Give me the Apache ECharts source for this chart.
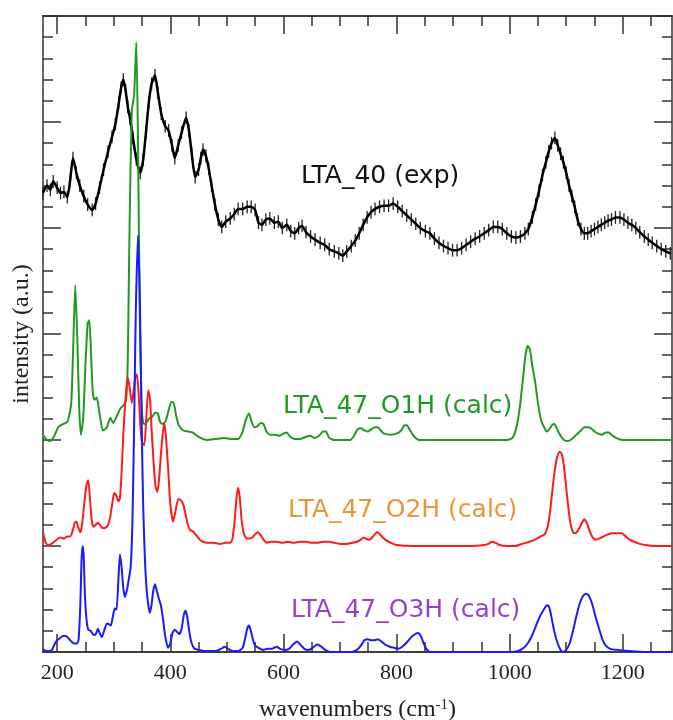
<!DOCTYPE html>
<html>
<head>
<meta charset="utf-8">
<script src="https://cdn.jsdelivr.net/npm/echarts@6/dist/echarts.min.js"></script>
<style>
  html, body { margin: 0; padding: 0; background: #fff; }
  #chart { width: 673px; height: 720px; }
</style>
</head>
<body>
<div id="chart"></div>
<script>
  // x axis ticks (wavenumbers)
  const majorTicks = [200, 400, 600, 800, 1000, 1200]
  const minorTicks = [200, 250, 300, 350, 400, 450, 500, 550, 600, 650, 700, 750, 800, 850, 900, 950, 1000, 1050, 1100, 1150, 1200, 1250]

  // LTA_40 (exp), [wavenumber, intensity]
  const expPts = [
    [175, 4.33], [182, 4.40], [188, 4.36], [193, 4.44], [200, 4.38], [206, 4.33], [212, 4.34], [218, 4.29],
    [223, 4.45], [228, 4.66], [234, 4.52], [240, 4.40], [247, 4.30], [254, 4.22], [262, 4.17], [268, 4.23],
    [275, 4.38], [282, 4.55], [290, 4.72], [297, 4.86], [303, 4.98], [309, 5.18], [313, 5.32], [317, 5.40],
    [321, 5.30], [325, 5.14], [329, 5.03], [334, 4.85], [340, 4.65], [347, 4.52], [352, 4.64], [357, 4.90],
    [362, 5.18], [367, 5.36], [373, 5.44], [378, 5.28], [384, 5.08], [391, 4.96], [397, 4.92], [403, 4.78],
    [408, 4.66], [414, 4.78], [420, 4.90], [428, 5.04], [433, 4.92], [438, 4.70], [444, 4.48], [450, 4.55],
    [454, 4.66], [458, 4.74], [463, 4.68], [468, 4.56], [473, 4.40], [479, 4.22], [485, 4.08], [491, 4.01],
    [498, 4.06], [506, 4.09], [513, 4.13], [520, 4.18], [528, 4.18], [536, 4.20], [543, 4.20], [550, 4.17],
    [556, 4.05], [562, 4.03], [569, 4.08], [576, 4.09], [584, 4.05], [591, 4.06], [598, 4.00], [606, 4.03],
    [613, 3.97], [620, 3.95], [627, 4.00], [633, 4.02], [640, 3.96], [648, 3.92], [656, 3.89], [665, 3.86],
    [673, 3.84], [681, 3.80], [690, 3.78], [698, 3.76], [705, 3.74], [712, 3.78], [720, 3.83], [727, 3.88],
    [734, 3.95], [741, 4.03], [748, 4.10], [755, 4.15], [762, 4.18], [770, 4.20], [778, 4.21], [786, 4.21],
    [794, 4.23], [802, 4.20], [810, 4.16], [818, 4.12], [826, 4.08], [834, 4.04], [842, 4.00], [851, 3.97],
    [859, 3.95], [867, 3.90], [875, 3.86], [883, 3.83], [891, 3.81], [899, 3.79], [907, 3.79], [915, 3.81],
    [923, 3.84], [931, 3.87], [939, 3.90], [947, 3.92], [955, 3.95], [963, 3.98], [971, 4.01], [979, 4.01],
    [987, 3.99], [995, 3.95], [1003, 3.92], [1011, 3.91], [1019, 3.92], [1027, 3.95], [1033, 3.99], [1040, 4.10],
    [1046, 4.22], [1052, 4.35], [1058, 4.50], [1064, 4.62], [1069, 4.72], [1074, 4.80], [1080, 4.85], [1085, 4.78],
    [1090, 4.70], [1095, 4.62], [1100, 4.52], [1105, 4.40], [1110, 4.30], [1115, 4.20], [1120, 4.08], [1126, 3.99],
    [1132, 3.95], [1138, 3.95], [1144, 3.97], [1150, 3.99], [1156, 4.01], [1162, 4.03], [1168, 4.05], [1174, 4.07],
    [1180, 4.08], [1187, 4.10], [1195, 4.10], [1202, 4.08], [1209, 4.05], [1216, 4.03], [1223, 4.00], [1230, 3.96],
    [1238, 3.92], [1245, 3.89], [1252, 3.86], [1260, 3.83], [1268, 3.80], [1276, 3.78], [1284, 3.76]
  ]
  // half height of the error bars on the exp curve
  const expErr = 0.06

  // LTA_47_O1H (calc)
  const o1hPts = [
    [175, 2.05], [182, 2.00], [188, 1.99], [195, 2.04], [202, 2.12], [210, 2.15], [218, 2.17], [222, 2.25],
    [225, 2.35], [228, 2.80], [232, 3.46], [236, 2.90], [239, 2.30], [242, 2.05], [246, 2.20], [250, 2.70],
    [254, 3.10], [257, 3.13], [260, 2.80], [263, 2.45], [266, 2.38], [270, 2.40], [275, 2.25], [281, 2.09],
    [288, 2.12], [294, 2.21], [299, 2.16], [305, 2.22], [312, 2.30], [318, 2.33], [322, 2.38], [325, 2.80],
    [328, 4.00], [332, 5.11], [336, 5.25], [340, 5.75], [343, 4.80], [346, 3.20], [349, 2.40], [352, 2.16],
    [356, 2.15], [362, 2.20], [368, 2.22], [374, 2.26], [378, 2.25], [382, 2.17], [386, 2.15], [392, 2.18],
    [398, 2.30], [402, 2.36], [406, 2.35], [410, 2.24], [415, 2.14], [423, 2.09], [432, 2.08], [440, 2.07],
    [450, 2.03], [465, 2.00], [480, 2.01], [495, 2.02], [510, 2.01], [520, 2.01], [528, 2.08], [533, 2.18],
    [539, 2.25], [544, 2.17], [549, 2.12], [554, 2.13], [560, 2.16], [565, 2.15], [570, 2.08], [576, 2.05],
    [585, 2.05], [593, 2.04], [600, 2.06], [606, 2.07], [612, 2.03], [620, 2.01], [630, 2.01], [640, 2.03],
    [647, 2.04], [655, 2.02], [663, 2.04], [670, 2.08], [675, 2.08], [681, 2.02], [690, 2.00], [705, 2.00],
    [718, 2.00], [725, 2.04], [731, 2.10], [737, 2.11], [743, 2.09], [749, 2.08], [755, 2.10], [762, 2.12],
    [767, 2.12], [772, 2.09], [778, 2.06], [790, 2.05], [800, 2.06], [808, 2.09], [814, 2.14], [818, 2.14],
    [823, 2.10], [830, 2.04], [840, 2.00], [860, 2.00], [900, 2.00], [960, 2.00], [995, 2.00], [1005, 2.02],
    [1012, 2.12], [1018, 2.31], [1023, 2.55], [1028, 2.80], [1032, 2.89], [1036, 2.85], [1040, 2.70], [1045, 2.55],
    [1050, 2.35], [1055, 2.20], [1060, 2.13], [1066, 2.08], [1070, 2.10], [1075, 2.14], [1079, 2.15], [1084, 2.10],
    [1090, 2.04], [1096, 2.00], [1103, 1.99], [1110, 2.01], [1118, 2.05], [1126, 2.09], [1132, 2.12], [1138, 2.12],
    [1144, 2.11], [1150, 2.08], [1156, 2.06], [1163, 2.05], [1170, 2.07], [1175, 2.07], [1180, 2.05], [1188, 2.02],
    [1200, 2.00], [1230, 2.00], [1287, 2.00]
  ]

  // LTA_47_O2H (calc)
  const o2hPts = [
    [175, 1.13], [180, 1.03], [184, 1.01], [190, 1.02], [197, 1.05], [205, 1.08], [212, 1.07], [218, 1.09],
    [223, 1.09], [228, 1.15], [231, 1.22], [234, 1.23], [237, 1.18], [241, 1.13], [244, 1.20], [248, 1.40],
    [252, 1.58], [255, 1.62], [258, 1.45], [261, 1.25], [264, 1.18], [268, 1.20], [272, 1.22], [276, 1.20],
    [280, 1.17], [285, 1.17], [290, 1.20], [294, 1.28], [298, 1.42], [301, 1.50], [305, 1.47], [308, 1.42],
    [311, 1.45], [314, 1.70], [317, 2.05], [321, 2.40], [325, 2.59], [328, 2.50], [332, 2.35], [335, 2.45],
    [338, 2.58], [341, 2.62], [344, 2.45], [347, 2.15], [350, 1.98], [354, 1.95], [357, 2.15], [361, 2.47],
    [364, 2.40], [367, 2.10], [371, 1.75], [374, 1.56], [377, 1.51], [380, 1.62], [384, 1.90], [389, 2.16],
    [392, 2.05], [396, 1.75], [400, 1.40], [405, 1.23], [409, 1.32], [414, 1.44], [419, 1.43], [423, 1.39],
    [427, 1.30], [431, 1.20], [435, 1.15], [440, 1.14], [446, 1.10], [452, 1.06], [458, 1.04], [465, 1.03],
    [475, 1.03], [488, 1.02], [498, 1.03], [506, 1.03], [510, 1.07], [514, 1.25], [517, 1.45], [520, 1.55],
    [523, 1.45], [526, 1.25], [530, 1.12], [535, 1.07], [540, 1.07], [545, 1.08], [550, 1.11], [555, 1.13],
    [560, 1.10], [565, 1.06], [570, 1.03], [578, 1.04], [588, 1.04], [598, 1.03], [608, 1.04], [618, 1.03],
    [630, 1.04], [640, 1.04], [650, 1.03], [660, 1.03], [670, 1.04], [680, 1.04], [690, 1.03], [700, 1.02],
    [712, 1.02], [722, 1.03], [730, 1.04], [737, 1.06], [742, 1.08], [746, 1.07], [750, 1.06], [755, 1.07],
    [760, 1.10], [765, 1.13], [769, 1.12], [774, 1.09], [780, 1.06], [790, 1.03], [800, 1.01], [830, 1.00],
    [880, 1.00], [930, 1.00], [955, 1.01], [962, 1.02], [969, 1.04], [975, 1.03], [982, 1.01], [995, 1.00],
    [1010, 1.00], [1022, 1.02], [1035, 1.04], [1045, 1.06], [1055, 1.09], [1062, 1.11], [1068, 1.20], [1072, 1.35],
    [1076, 1.55], [1080, 1.72], [1084, 1.84], [1088, 1.89], [1092, 1.87], [1096, 1.75], [1100, 1.55], [1104, 1.35],
    [1108, 1.20], [1112, 1.13], [1116, 1.12], [1120, 1.14], [1125, 1.19], [1130, 1.24], [1133, 1.25], [1137, 1.21],
    [1142, 1.13], [1147, 1.08], [1152, 1.06], [1158, 1.07], [1166, 1.09], [1174, 1.11], [1182, 1.12], [1190, 1.12],
    [1198, 1.12], [1205, 1.09], [1212, 1.06], [1220, 1.04], [1230, 1.02], [1240, 1.01], [1255, 1.00], [1287, 1.00]
  ]

  // LTA_47_O3H (calc)
  const o3hPts = [
    [175, 0.03], [180, 0.01], [186, 0.01], [191, 0.02], [196, 0.08], [200, 0.11], [205, 0.13], [210, 0.15],
    [215, 0.15], [220, 0.13], [225, 0.10], [230, 0.08], [235, 0.08], [238, 0.12], [241, 0.45], [243, 0.85],
    [245, 1.00], [247, 0.90], [249, 0.55], [252, 0.30], [255, 0.21], [259, 0.20], [263, 0.17], [267, 0.16],
    [270, 0.19], [272, 0.22], [275, 0.18], [279, 0.14], [283, 0.20], [288, 0.27], [292, 0.26], [295, 0.25],
    [299, 0.35], [302, 0.41], [305, 0.40], [308, 0.65], [311, 0.92], [314, 0.80], [317, 0.60], [320, 0.52],
    [324, 0.60], [327, 0.70], [330, 0.80], [333, 1.20], [336, 2.10], [339, 3.20], [343, 3.93], [346, 3.40],
    [349, 2.30], [352, 1.40], [355, 0.90], [358, 0.60], [361, 0.45], [364, 0.37], [367, 0.45], [370, 0.58],
    [373, 0.64], [376, 0.58], [380, 0.50], [383, 0.45], [387, 0.32], [391, 0.15], [396, 0.04], [400, 0.08],
    [404, 0.18], [408, 0.21], [412, 0.19], [416, 0.17], [420, 0.22], [424, 0.35], [427, 0.39], [430, 0.33],
    [434, 0.18], [438, 0.08], [443, 0.03], [450, 0.02], [460, 0.01], [470, 0.01], [480, 0.01], [490, 0.03],
    [496, 0.05], [502, 0.03], [510, 0.01], [520, 0.01], [528, 0.04], [532, 0.12], [536, 0.22], [539, 0.25],
    [542, 0.21], [546, 0.12], [550, 0.06], [556, 0.04], [564, 0.02], [572, 0.03], [580, 0.03], [588, 0.05],
    [594, 0.03], [602, 0.02], [610, 0.03], [617, 0.07], [624, 0.10], [630, 0.07], [637, 0.03], [644, 0.02],
    [652, 0.04], [660, 0.07], [667, 0.05], [674, 0.02], [682, 0.00], [700, 0.00], [720, 0.00], [730, 0.02],
    [737, 0.06], [743, 0.11], [749, 0.12], [755, 0.11], [761, 0.11], [767, 0.12], [773, 0.10], [780, 0.07],
    [788, 0.05], [795, 0.04], [803, 0.03], [810, 0.05], [818, 0.09], [826, 0.14], [833, 0.17], [838, 0.18],
    [843, 0.15], [848, 0.08], [854, 0.02], [860, 0.00], [900, 0.00], [960, 0.00], [1000, 0.00], [1015, 0.01],
    [1025, 0.04], [1033, 0.09], [1040, 0.16], [1046, 0.24], [1052, 0.32], [1058, 0.38], [1064, 0.43], [1068, 0.44],
    [1072, 0.38], [1076, 0.27], [1080, 0.17], [1085, 0.08], [1090, 0.02], [1094, 0.00], [1100, 0.02], [1106, 0.08],
    [1112, 0.20], [1118, 0.34], [1124, 0.46], [1130, 0.53], [1135, 0.55], [1140, 0.53], [1146, 0.45], [1152, 0.33],
    [1158, 0.22], [1164, 0.12], [1170, 0.06], [1178, 0.03], [1190, 0.02], [1210, 0.01], [1240, 0.00], [1287, 0.00]
  ]

  const X_MIN = 175
  const X_MAX = 1287
  const axisColor = '#333'
  const serif = '"Liberation Serif", "Times New Roman", serif'
  const sans = '"DejaVu Sans", Verdana, sans-serif'

  // one x axis (bottom or top), either major or minor ticks
  function xAxisOf (position, ticks, len, withLabels) {
    return {
      type: 'value',
      position: position,
      min: X_MIN,
      max: X_MAX,
      axisLine: { show: true, onZero: false, lineStyle: { color: axisColor, width: 1.5 } },
      axisTick: { show: true, inside: true, length: len, customValues: ticks, lineStyle: { color: axisColor, width: 1.5 } },
      axisLabel: withLabels
        ? { show: true, customValues: ticks, margin: 10, fontFamily: serif, fontSize: 22, color: '#222',
            formatter: function (v) { return String(v) } }
        : { show: false },
      splitLine: { show: false }
    }
  }

  function yAxisOf (position) {
    return {
      type: 'value',
      position: position,
      min: 0,
      max: 6,
      interval: 1,
      axisLine: { show: true, onZero: false, lineStyle: { color: axisColor, width: 1.5 } },
      axisTick: { show: true, inside: true, length: 18, lineStyle: { color: axisColor, width: 1.5 } },
      minorTick: { show: true, splitNumber: 5, length: 10, lineStyle: { color: axisColor, width: 1.5 } },
      axisLabel: { show: false },
      splitLine: { show: false },
      minorSplitLine: { show: false }
    }
  }

  function lineSeries (name, pts, color, width) {
    return {
      name: name,
      type: 'line',
      data: pts,
      xAxisIndex: 0,
      yAxisIndex: 0,
      showSymbol: false,
      smooth: 0.2,
      lineStyle: { color: color, width: width },
      emphasis: { disabled: true }
    }
  }

  const chart = echarts.init(document.getElementById('chart'))

  const xMainBottom = xAxisOf('bottom', majorTicks, 18, true)
  xMainBottom.name = '{t|wavenumbers (cm}{s|-1}{t|)}'
  xMainBottom.nameLocation = 'middle'
  xMainBottom.nameGap = 46
  xMainBottom.nameTextStyle = {
    rich: {
      t: { fontFamily: serif, fontSize: 24, color: '#222' },
      s: { fontFamily: serif, fontSize: 15, color: '#222', verticalAlign: 'top' }
    }
  }

  const yLeft = yAxisOf('left')
  yLeft.name = 'intensity (a.u.)'
  yLeft.nameLocation = 'middle'
  yLeft.nameRotate = 90
  yLeft.nameGap = 9
  yLeft.nameTextStyle = { fontFamily: serif, fontSize: 24, color: '#222' }

  chart.setOption({
    animation: false,
    backgroundColor: '#fff',
    grid: { left: 43, right: 1, top: 16, bottom: 68, outerBoundsMode: 'none', containLabel: false },
    xAxis: [
      xMainBottom,
      xAxisOf('bottom', minorTicks, 10, false),
      xAxisOf('top', majorTicks, 18, false),
      xAxisOf('top', minorTicks, 10, false)
    ],
    yAxis: [yLeft, yAxisOf('right')],
    series: [
      lineSeries('LTA_40 (exp)', expPts, '#000', 2.5),
      {
        name: 'exp error',
        type: 'custom',
        xAxisIndex: 0,
        yAxisIndex: 0,
        data: expPts,
        encode: { x: 0, y: 1 },
        renderItem: function (params, api) {
          const x = api.value(0)
          const y = api.value(1)
          const top = api.coord([x, y + expErr])
          const bot = api.coord([x, y - expErr])
          return {
            type: 'line',
            shape: { x1: top[0], y1: top[1], x2: bot[0], y2: bot[1] },
            style: { stroke: '#222', lineWidth: 1.3 }
          }
        }
      },
      lineSeries('LTA_47_O1H (calc)', o1hPts, '#1f9a1f', 2),
      lineSeries('LTA_47_O2H (calc)', o2hPts, '#ff1a1a', 2),
      lineSeries('LTA_47_O3H (calc)', o3hPts, '#1a1aff', 2)
    ],
    // curve labels
    graphic: [
      { type: 'text', left: 301, top: 164, style: { text: 'LTA_40 (exp)', font: '25px ' + sans, fill: '#111' } },
      { type: 'text', left: 283, top: 394, style: { text: 'LTA_47_O1H (calc)', font: '25px ' + sans, fill: '#1f9a1f' } },
      { type: 'text', left: 288, top: 498, style: { text: 'LTA_47_O2H (calc)', font: '25px ' + sans, fill: '#e8963a' } },
      { type: 'text', left: 291, top: 598, style: { text: 'LTA_47_O3H (calc)', font: '25px ' + sans, fill: '#9a3fcc' } }
    ]
  })
</script>
</body>
</html>
